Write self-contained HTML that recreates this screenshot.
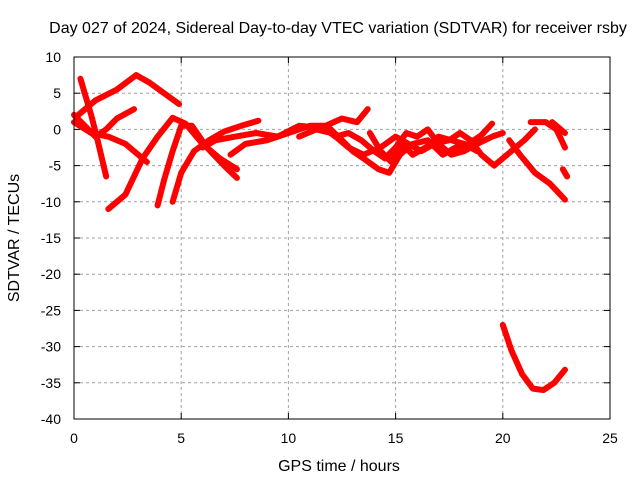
<!DOCTYPE html>
<html><head><meta charset="utf-8"><style>
body{margin:0;background:#fff}
svg{display:block;font-family:"Liberation Sans",sans-serif;font-size:14px}
.big{font-size:16px}
</style></head><body>
<svg id="chart" width="640" height="480">
<text class="big" x="338" y="33" text-anchor="middle">Day 027 of 2024, Sidereal Day-to-day VTEC variation (SDTVAR) for receiver rsby</text>
<text class="big" x="339" y="471" text-anchor="middle">GPS time / hours</text>
<text class="big" transform="translate(19,238) rotate(-90)" text-anchor="middle">SDTVAR / TECUs</text>
<g id="grid"></g><g id="ticks"></g><g id="series"></g>
<rect x="74" y="57" width="536" height="362" fill="none" stroke="#000"/>
</svg>
<script>
const xTicks=[0,5,10,15,20,25];
const yTicks=[10,5,0,-5,-10,-15,-20,-25,-30,-35,-40];
const track1=[[0.3,7],[0.5,5],[0.8,2],[1.1,-1.5],[1.5,-6.5]];
const track2=[[0.2,2],[1,4],[2,5.5],[2.9,7.5],[3.5,6.5],[4.2,5],[4.9,3.5]];
const track3=[[0,2],[0.5,0.5],[1,-1],[1.5,0],[2,1.5],[2.8,2.8]];
const track4=[[0,1],[0.8,-0.5],[1.6,-1],[2.4,-2],[3.4,-4.5]];
const track5=[[1.6,-11],[2.4,-9],[3.2,-4],[3.9,-1],[4.6,1.6],[5.2,0.8],[6,-2],[6.8,-4],[7.6,-5.5]];
const track6=[[3.9,-10.5],[4.2,-7],[4.6,-3],[5,0.5],[5.5,0.5],[6.2,-2.5],[7,-5],[7.6,-6.7]];
const track7=[[4.6,-10],[5,-6],[5.6,-3],[6.3,-1.5],[7,-0.3],[7.8,0.5],[8.6,1.2]];
const track8=[[6,-2.5],[6.6,-1.5],[7.5,-1],[8.5,-0.5],[9.5,-1],[10.5,0.5],[11.5,0.2],[12.5,1.5],[13.2,1],[13.7,2.8]];
const track9=[[7.3,-3.5],[8,-2],[9,-1.5],[10,-0.5],[11,0.5],[11.8,0.5],[12.5,-1.5],[13,-3],[13.5,-4],[14.2,-5.5],[14.7,-6],[15.2,-3.5],[15.8,-2],[16.5,-1.5],[17.2,-3.5],[17.8,-2.5],[18.4,-2],[19,-0.8],[19.5,0.8]];
const track10=[[11.5,0.5],[12.2,-1],[12.8,-0.5],[13.4,-1.5],[14,-3],[14.5,-4],[15,-2.5],[15.5,-0.5],[16,-1],[16.5,0],[17,-2],[17.6,-3.5],[18.2,-3],[18.8,-2],[19.5,-1],[20,-0.5]];
const track11=[[10.5,-1],[11.3,0],[12,-0.5],[12.8,-2.5],[13.5,-3.5],[14.3,-2.5],[15,-1],[15.6,-2],[16.2,-3],[16.8,-2],[17.5,-1.5],[18,-0.5],[18.5,-1.5],[19,-3.5],[19.6,-5],[20.2,-3.5],[21,-1.5],[21.5,0]];
const track12=[[13.8,-0.5],[14.3,-3],[14.8,-4.5],[15.3,-2],[15.8,-3.5],[16.4,-2.5],[17,-1],[17.6,-1.5],[18.2,-2],[18.8,-3]];
const track13=[[20.3,-1.5],[20.8,-3.5],[21.5,-6],[22.2,-7.5],[22.9,-9.7]];
const track14=[[21.3,1],[22,1],[22.5,0],[22.9,-2.5]];
const track15=[[22.3,1],[22.9,-0.5]];
const track16=[[22.8,-5.5],[23,-6.5]];
const track17=[[20,-27],[20.4,-30.5],[20.9,-33.8],[21.4,-35.8],[21.9,-36],[22.4,-35],[22.9,-33.2]];
const tracks=[track1,track2,track3,track4,track5,track6,track7,track8,track9,track10,track11,track12,track13,track14,track15,track16,track17];
const X=h=>74+h*536/25, Y=v=>57+(10-v)*362/50;
const NS='http://www.w3.org/2000/svg';
const g=document.getElementById('grid'),t=document.getElementById('ticks'),s=document.getElementById('series');
function mk(tag,at,p){const e=document.createElementNS(NS,tag);for(const k in at)e.setAttribute(k,at[k]);p.appendChild(e);return e;}
xTicks.forEach(v=>{
 const l=mk('line',{x1:X(v),x2:X(v),y1:57,y2:419,stroke:'#a0a0a0','stroke-dasharray':'3,3'},g);
 
 
 mk('line',{x1:X(v),x2:X(v),y1:419,y2:413,stroke:'#000'},t);
 mk('line',{x1:X(v),x2:X(v),y1:57,y2:63,stroke:'#000'},t);
 const tx=mk('text',{x:X(v),y:443,'text-anchor':'middle'},t);tx.textContent=v;
 
 
});
yTicks.forEach(v=>{
 const l=mk('line',{x1:74,x2:610,y1:Y(v),y2:Y(v),stroke:'#a0a0a0','stroke-dasharray':'3,3'},g);
 
 
 mk('line',{x1:74,x2:80,y1:Y(v),y2:Y(v),stroke:'#000'},t);
 mk('line',{x1:610,x2:604,y1:Y(v),y2:Y(v),stroke:'#000'},t);
 const tx=mk('text',{x:61,y:Y(v)+5,'text-anchor':'end'},t);tx.textContent=v;
 
 
});
tracks.forEach(tr=>{
 const p=mk('polyline',{points:tr.map(d=>X(d[0])+','+Y(d[1])).join(' '),fill:'none',stroke:'#f00','stroke-width':6,'stroke-linejoin':'round','stroke-linecap':'round'},s);
 
 
});
</script>
</body></html>
